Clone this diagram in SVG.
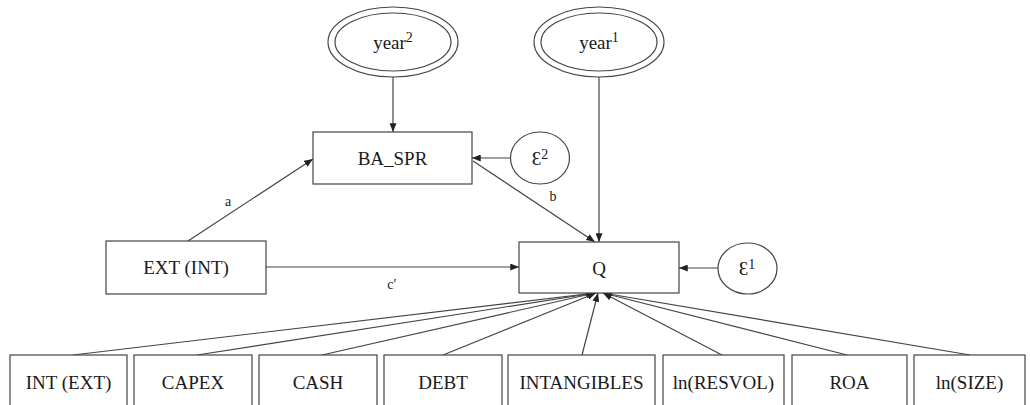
<svg xmlns="http://www.w3.org/2000/svg" width="1030" height="405" viewBox="0 0 1030 405">
<style>
.box{fill:#fff;stroke:#444;stroke-width:1.2}
.t{font-family:"Liberation Serif",serif;font-size:19px;fill:#1a1a1a;text-anchor:middle}
.sup{font-size:14px}
.lab{font-family:"Liberation Serif",serif;font-size:14px;fill:#1a1a1a;text-anchor:middle}
.c{stroke:#444;stroke-width:1.2;fill:none;marker-end:url(#ah)}
</style>
<defs>
<marker id="ah" viewBox="0 0 10 8" refX="10" refY="4" markerWidth="9" markerHeight="7" markerUnits="userSpaceOnUse" orient="auto">
<path d="M0,0 L10,4 L0,8 Z" fill="#222"/>
</marker>
</defs>
<rect width="1030" height="405" fill="#fff"/>
<g id="connectors">
<line class="c" x1="393" y1="77" x2="393" y2="132"/>
<line class="c" x1="510" y1="158" x2="472" y2="158"/>
<line class="c" x1="188" y1="241" x2="313" y2="159"/>
<line class="c" x1="266" y1="267" x2="519" y2="267"/>
<line class="c" x1="473" y1="161" x2="595" y2="242"/>
<line class="c" x1="599" y1="77" x2="599" y2="242"/>
<line class="c" x1="718" y1="268" x2="679" y2="268"/>
<line class="c" x1="73" y1="355" x2="595" y2="293"/>
<line class="c" x1="197" y1="355" x2="595" y2="293"/>
<line class="c" x1="322" y1="355" x2="595" y2="293"/>
<line class="c" x1="443" y1="355" x2="596" y2="293"/>
<line class="c" x1="582" y1="355" x2="598" y2="293"/>
<line class="c" x1="722" y1="355" x2="603" y2="293"/>
<line class="c" x1="847" y1="355" x2="603" y2="293"/>
<line class="c" x1="970" y1="355" x2="603" y2="293"/>
<text class="lab" x="228" y="206">a</text>
<text class="lab" x="553" y="201">b</text>
<text class="lab" x="392" y="289">c′</text>
</g>
<g id="year2">
<ellipse class="box" cx="393" cy="42" rx="65" ry="35"/>
<ellipse class="box" cx="393" cy="42" rx="58" ry="29"/>
<text class="t" x="393" y="49">year<tspan class="sup" dy="-7">2</tspan></text>
</g>
<g id="year1">
<ellipse class="box" cx="599" cy="42" rx="65" ry="35"/>
<ellipse class="box" cx="599" cy="42" rx="58" ry="29"/>
<text class="t" x="599" y="49">year<tspan class="sup" dy="-7">1</tspan></text>
</g>
<g id="ba_spr">
<rect class="box" x="313" y="132" width="159" height="52"/>
<text class="t" x="392.5" y="165">BA_SPR</text>
</g>
<g id="eps2">
<ellipse class="box" cx="540" cy="158" rx="29.5" ry="26"/>
<text class="t" x="540" y="165">Ɛ<tspan class="sup" dy="-6">2</tspan></text>
</g>
<g id="ext">
<rect class="box" x="106" y="241" width="160" height="53"/>
<text class="t" x="186" y="274">EXT (INT)</text>
</g>
<g id="q">
<rect class="box" x="519" y="242" width="160" height="51"/>
<text class="t" x="599" y="275">Q</text>
</g>
<g id="eps1">
<ellipse class="box" cx="747.5" cy="268.5" rx="29.5" ry="25.5"/>
<text class="t" x="747" y="275">Ɛ<tspan class="sup" dy="-6">1</tspan></text>
</g>
<g id="int_ext"><rect class="box" x="10" y="355" width="117" height="60"/><text class="t" x="68.5" y="389">INT (EXT)</text></g>
<g id="capex"><rect class="box" x="134" y="355" width="118" height="60"/><text class="t" x="193" y="389">CAPEX</text></g>
<g id="cash"><rect class="box" x="259" y="355" width="118" height="60"/><text class="t" x="318" y="389">CASH</text></g>
<g id="debt"><rect class="box" x="384" y="355" width="118" height="60"/><text class="t" x="443" y="389">DEBT</text></g>
<g id="intangibles"><rect class="box" x="508" y="355" width="147" height="60"/><text class="t" x="581.5" y="389">INTANGIBLES</text></g>
<g id="resvol"><rect class="box" x="663" y="355" width="121" height="60"/><text class="t" x="723.5" y="389">ln(RESVOL)</text></g>
<g id="roa"><rect class="box" x="792" y="355" width="115" height="60"/><text class="t" x="849.5" y="389">ROA</text></g>
<g id="size"><rect class="box" x="914" y="355" width="111" height="60"/><text class="t" x="969.5" y="389">ln(SIZE)</text></g>
</svg>
